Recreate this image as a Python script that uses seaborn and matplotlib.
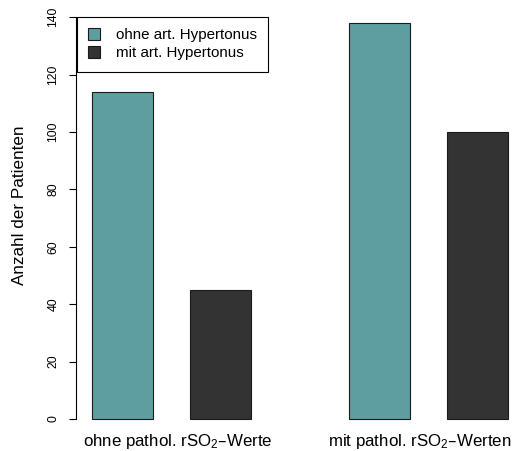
import matplotlib
matplotlib.use("Agg")
import matplotlib.pyplot as plt
import matplotlib.transforms as mtransforms
import seaborn as sns
import pandas as pd

# ---- data ----
groups = ["ohne pathol. rSO$_2$\u2013Werte", "mit pathol. rSO$_2$\u2013Werten"]
hypertonus = ["ohne art. Hypertonus", "mit art. Hypertonus"]
ohne_hyp = [114, 138]
mit_hyp = [45, 100]
yticks = [0, 20, 40, 60, 80, 100, 120, 140]
ylabel = "Anzahl der Patienten"
colors = ["#5F9EA0", "#333333"]

df = pd.DataFrame({
    "Gruppe": groups * 2,
    "Hypertonus": [hypertonus[0]] * 2 + [hypertonus[1]] * 2,
    "Anzahl": ohne_hyp + mit_hyp,
})

sns.set_style("ticks")
plt.rcParams["font.family"] = ["Liberation Sans", "DejaVu Sans"]
plt.rcParams["mathtext.default"] = "regular"
for k in ["text.color", "axes.labelcolor", "xtick.color", "ytick.color",
          "axes.edgecolor"]:
    plt.rcParams[k] = "black"

W, H = 517, 451
fig = plt.figure(figsize=(W / 100, H / 100), dpi=100)
ax = fig.add_axes([76 / W, (H - 424.7) / H, (W - 76) / W, 423.6 / H])

sns.barplot(data=df, x="Gruppe", y="Anzahl", hue="Hypertonus",
            order=groups, hue_order=hypertonus, palette=colors,
            width=0.762, gap=0.375, edgecolor="#1a1a1a", linewidth=0.8,
            saturation=1, ax=ax, legend=True)

ax.set_xlim(-0.372, 1.344)
ax.set_ylim(-2, 145.6)

for s in ["top", "right", "bottom"]:
    ax.spines[s].set_visible(False)
ax.spines["left"].set_bounds(0, 140)
ax.spines["left"].set_linewidth(0.8)
ax.spines["left"].set_color("black")

ax.set_yticks(yticks)
ax.set_yticklabels([str(v) for v in yticks], rotation=90, va="center",
                   fontsize=8.8)
ax.tick_params(axis="y", length=5, width=0.8, pad=7, color="black",
               labelcolor="black")
ax.tick_params(axis="x", length=0, pad=5, labelsize=12.2, labelcolor="black")

# shift x labels slightly as in the reference
shifts_px = [6, -9]
for lab, dx in zip(ax.get_xticklabels(), shifts_px):
    off = mtransforms.ScaledTranslation(dx / 100, 0, fig.dpi_scale_trans)
    lab.set_transform(lab.get_transform() + off)

ax.set_xlabel("")
ax.set_ylabel(ylabel, fontsize=12.3, color="black")
ax.yaxis.set_label_coords((27 - 76) / (W - 76), 0.518)

leg = ax.legend(loc="upper left", bbox_to_anchor=(77 / W, 1 - 17 / H),
                bbox_transform=fig.transFigure, borderaxespad=0,
                fontsize=10.9, frameon=True, fancybox=False,
                handlelength=0.8, handleheight=0.8, handletextpad=1.0,
                borderpad=0.75, labelspacing=0.25)
leg.get_frame().set_edgecolor("black")
leg.get_frame().set_linewidth(0.8)
leg.get_frame().set_alpha(1)
for t in leg.get_texts():
    t.set_color("black")

fig.savefig("out.png", dpi=100)
